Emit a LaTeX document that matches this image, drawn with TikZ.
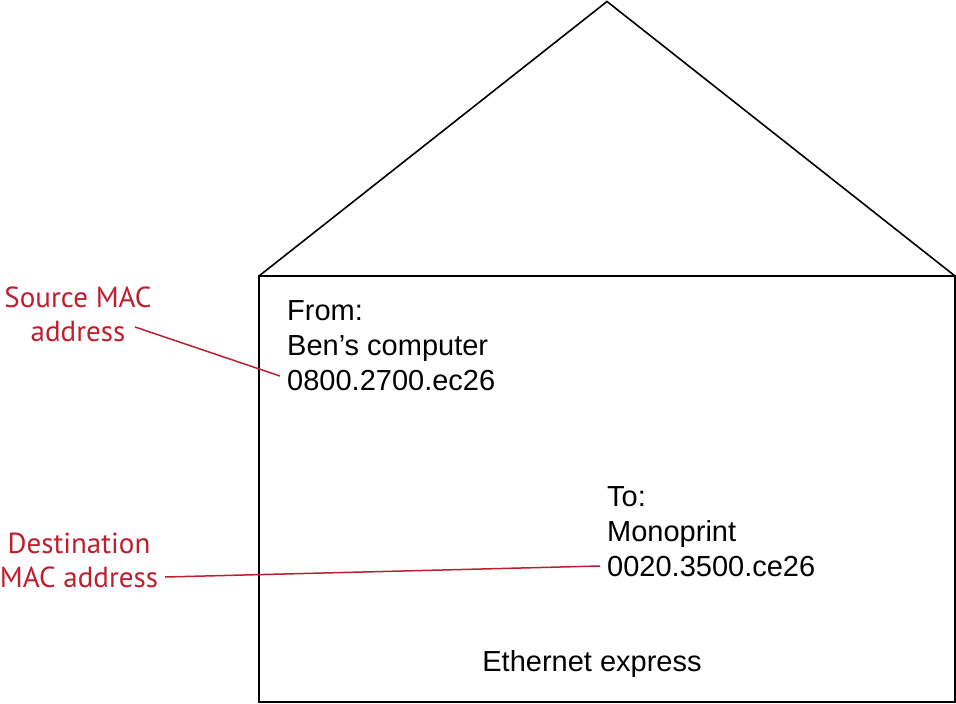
\documentclass[tikz,border=0pt]{standalone}
\usepackage{fontspec}
\setmainfont{Liberation Sans}
\newfontfamily\redfont{PT Sans}
\definecolor{labred}{RGB}{190,30,45}
\begin{document}
\begin{tikzpicture}[x=1pt,y=-1pt,
  env/.style={draw=black,line width=1.6pt,line join=miter},
  blk/.style={inner sep=0pt,align=left,font=\fontsize{29}{35}\selectfont,anchor=north west},
  lab/.style={inner sep=0pt,align=center,text=labred,font=\redfont\fontsize{29}{34}\selectfont},
  lead/.style={draw=labred,line width=1.5pt}]
\useasboundingbox (0,0) rectangle (956,704);
\coordinate (bl) at (259,276);
\coordinate (br) at (955,276);
\coordinate (top) at (607,1.5);
\draw[env] (bl) rectangle (955,702);
\draw[env] (bl) -- (top) -- (br);
\node[blk] (from) at (287,300) {From:\\Ben’s computer\\0800.2700.ec26};
\node[blk] (to) at (607,486) {To:\\Monoprint\\0020.3500.ce26};
\node[inner sep=0pt,font=\fontsize{29}{35}\selectfont,anchor=base] (eth) at (592,671) {Ethernet express};
\node[lab] (src) at (78,314) {Source MAC\\address};
\node[lab] (dst) at (79,560) {Destination\\MAC address};
\coordinate (s1) at (135,327);
\coordinate (s2) at (280,376);
\coordinate (d1) at (165,577);
\coordinate (d2) at (600,566);
\draw[lead] (s1) -- (s2);
\draw[lead] (d1) -- (d2);
\end{tikzpicture}
\end{document}
